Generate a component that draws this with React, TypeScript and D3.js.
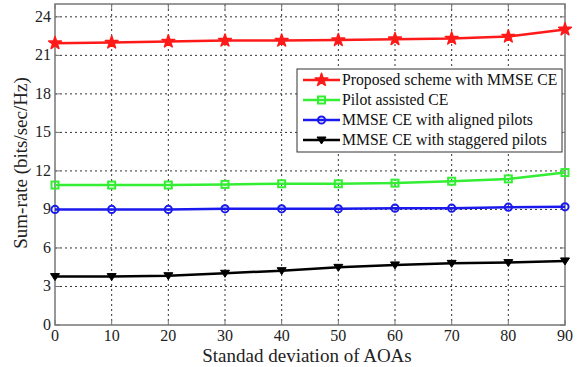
import React from "react";
import * as d3 from "d3";

const xValues = [0, 10, 20, 30, 40, 50, 60, 70, 80, 90];
const proposed = [21.95, 22.0, 22.08, 22.15, 22.15, 22.19, 22.26, 22.31, 22.47, 23.02];
const pilotAssisted = [10.9, 10.9, 10.9, 10.95, 11.0, 11.0, 11.05, 11.2, 11.38, 11.87];
const aligned = [9.0, 9.0, 9.0, 9.05, 9.05, 9.05, 9.1, 9.1, 9.18, 9.2];
const staggered = [3.77, 3.77, 3.84, 4.03, 4.23, 4.49, 4.68, 4.8, 4.86, 4.99];
const yTicks = [0, 3, 6, 9, 12, 15, 18, 21, 24];
const xTicks = [0, 10, 20, 30, 40, 50, 60, 70, 80, 90];
const seriesNames = [
  "Proposed scheme with MMSE CE",
  "Pilot assisted CE",
  "MMSE CE with aligned pilots",
  "MMSE CE with staggered pilots",
];
const seriesColors = ["#ff1a1a", "#33ee33", "#1a1aee", "#000000"];
const seriesMarkers = ["star", "square", "circle", "triangle"];

const W = 579, H = 367;
const L = 55, R = 565, T = 4, B = 325;

function Marker({ type, x, y, color }: { type: string; x: number; y: number; color: string }) {
  if (type === "star") {
    const p = d3.symbol().type(d3.symbolStar).size(50)();
    return <path d={p!} transform={`translate(${x},${y})`} fill={color} stroke={color} strokeWidth={1.5} strokeLinejoin="round" />;
  }
  if (type === "square") {
    return <rect x={x - 3.5} y={y - 3.5} width={7} height={7} fill="none" stroke={color} strokeWidth={2} />;
  }
  if (type === "circle") {
    return <circle cx={x} cy={y} r={3.6} fill="none" stroke={color} strokeWidth={2} />;
  }
  return <path d={`M${x - 4.5},${y - 3} L${x + 4.5},${y - 3} L${x},${y + 4} Z`} fill={color} stroke={color} strokeWidth={1} />;
}

export default function App() {
  const x = d3.scaleLinear().domain([0, 90]).range([L, R]);
  const y = d3.scaleLinear().domain([0, 25]).range([B, T]);
  const allSeries = [proposed, pilotAssisted, aligned, staggered];
  const line = d3.line<number>().x((_, i) => x(xValues[i])).y((d) => y(d));
  const font = "'Liberation Serif', 'Times New Roman', serif";
  const legX = 297, legY = 69, legW = 265, legH = 83;

  return (
    <svg width={W} height={H} style={{ position: "absolute", left: 0, top: 0, background: "#fff" }}>
      <rect x={0} y={0} width={W} height={H} fill="#fff" />
      {/* grid */}
      {xTicks.slice(1, -1).map((t) => (
        <line key={"gx" + t} x1={x(t)} x2={x(t)} y1={T} y2={B} stroke="#333" strokeWidth={1} strokeDasharray="2,3" />
      ))}
      {yTicks.slice(1).map((t) => (
        <line key={"gy" + t} x1={L} x2={R} y1={y(t)} y2={y(t)} stroke="#333" strokeWidth={1} strokeDasharray="2,3" />
      ))}
      {/* frame */}
      <rect x={L} y={T} width={R - L} height={B - T} fill="none" stroke="#777" strokeWidth={1.5} />
      {/* ticks */}
      {xTicks.map((t) => (
        <g key={"tx" + t}>
          <line x1={x(t)} x2={x(t)} y1={B} y2={B - 5} stroke="#777" />
          <line x1={x(t)} x2={x(t)} y1={T} y2={T + 5} stroke="#777" />
          <text x={x(t)} y={341} textAnchor="middle" fontFamily={font} fontSize={16} fill="#222">{t}</text>
        </g>
      ))}
      {yTicks.map((t) => (
        <g key={"ty" + t}>
          <line x1={L} x2={L + 5} y1={y(t)} y2={y(t)} stroke="#777" />
          <line x1={R} x2={R - 5} y1={y(t)} y2={y(t)} stroke="#777" />
          <text x={L - 4} y={y(t) + 5} textAnchor="end" fontFamily={font} fontSize={16} fill="#222">{t}</text>
        </g>
      ))}
      {/* series */}
      {allSeries.map((s, si) => (
        <g key={"s" + si}>
          <path d={line(s)!} fill="none" stroke={seriesColors[si]} strokeWidth={2.5} />
          {s.map((v, i) => (
            <Marker key={i} type={seriesMarkers[si]} x={x(xValues[i])} y={y(v)} color={seriesColors[si]} />
          ))}
        </g>
      ))}
      {/* legend */}
      <rect x={legX} y={legY} width={legW} height={legH} fill="#fff" stroke="#333" strokeWidth={1} />
      {seriesNames.map((n, i) => {
        const ly = legY + 11 + i * 20;
        return (
          <g key={"l" + i}>
            <line x1={legX + 6} x2={legX + 43} y1={ly} y2={ly} stroke={seriesColors[i]} strokeWidth={2.5} />
            <Marker type={seriesMarkers[i]} x={legX + 24.5} y={ly} color={seriesColors[i]} />
            <text x={legX + 45} y={ly + 5} fontFamily={font} fontSize={15.7} fill="#111">{n}</text>
          </g>
        );
      })}
      {/* axis labels */}
      <text x={(L + R) / 2 - 3} y={362} textAnchor="middle" fontFamily={font} fontSize={19} fill="#222">Standad deviation of AOAs</text>
      <text transform={`translate(27,163) rotate(-90)`} textAnchor="middle" fontFamily={font} fontSize={19} fill="#222">Sum-rate (bits/sec/Hz)</text>
    </svg>
  );
}
